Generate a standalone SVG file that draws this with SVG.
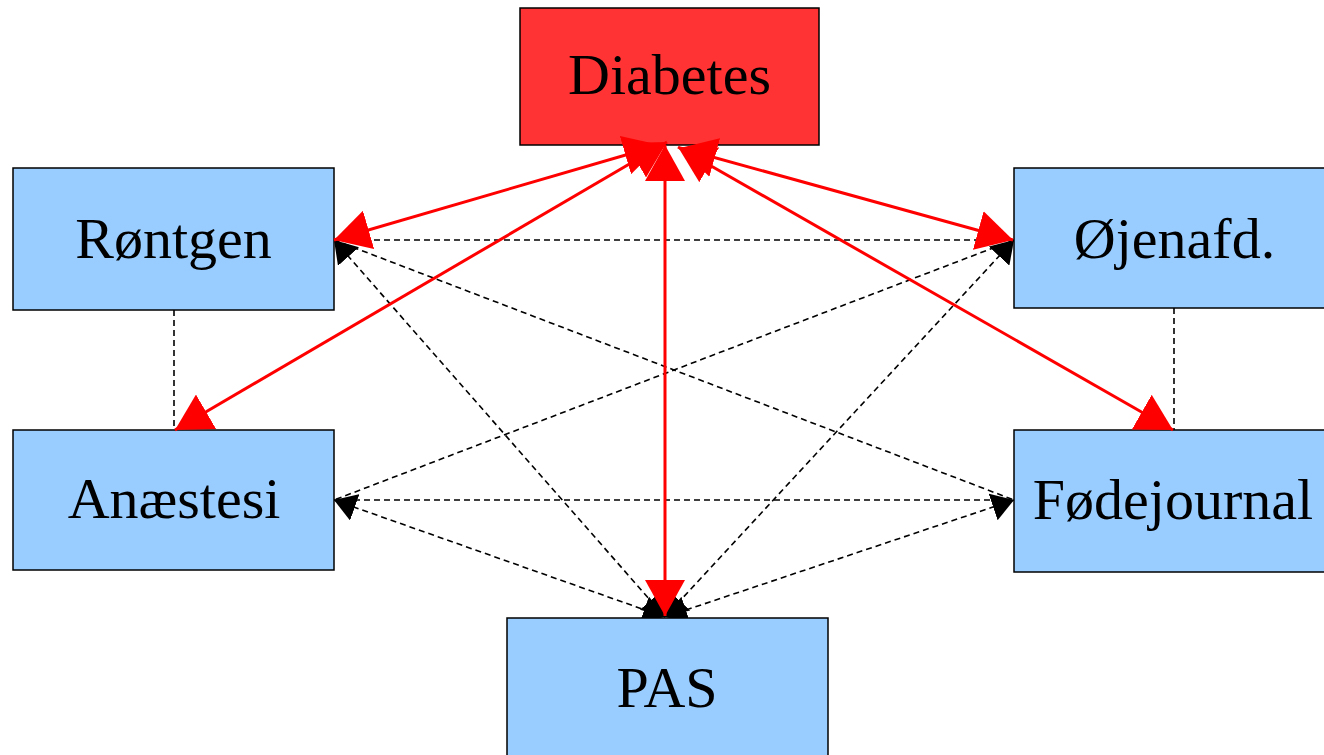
<svg xmlns="http://www.w3.org/2000/svg" width="1324" height="755" viewBox="0 0 1324 755">
<style>
.box{stroke:#000;stroke-width:1.5}
.blue{fill:#99ccff}
.red{fill:#ff3333}
.lbl{font-family:"Liberation Serif","Times New Roman",serif;font-size:58px;fill:#000;text-anchor:middle}
.dash{stroke:#000;stroke-width:1.6;stroke-dasharray:6,4;fill:none}
.rline{stroke:#ff0000;stroke-width:3;fill:none}
</style>
<defs>
<marker id="bk" markerUnits="userSpaceOnUse" viewBox="0 0 22 28" markerWidth="22" markerHeight="28" refX="22" refY="14" orient="auto-start-reverse"><path d="M0,0 L22,14 L0,28 z" fill="#000"/></marker>
<marker id="rd" markerUnits="userSpaceOnUse" viewBox="0 0 36 40" markerWidth="36" markerHeight="40" refX="36" refY="20" orient="auto-start-reverse"><path d="M0,0 L36,20 L0,40 z" fill="#ff0000"/></marker>
</defs>
<g id="connectors-dashed">
<line class="dash" x1="334" y1="240" x2="1014" y2="240"/>
<line class="dash" x1="334" y1="240" x2="1014" y2="500"/>
<line class="dash" x1="1014" y1="240" x2="334" y2="500"/>
<line class="dash" x1="334" y1="500" x2="1014" y2="500"/>
<line class="dash" x1="174" y1="310" x2="174" y2="430"/>
<line class="dash" x1="1174" y1="308" x2="1174" y2="430"/>
<line class="dash" x1="334" y1="240" x2="665" y2="617" marker-start="url(#bk)" marker-end="url(#bk)"/>
<line class="dash" x1="1014" y1="240" x2="665" y2="617" marker-start="url(#bk)" marker-end="url(#bk)"/>
<line class="dash" x1="334" y1="500" x2="665" y2="617" marker-start="url(#bk)" marker-end="url(#bk)"/>
<line class="dash" x1="1014" y1="500" x2="665" y2="617" marker-start="url(#bk)" marker-end="url(#bk)"/>
</g>
<g id="node-diabetes"><rect class="box red" x="520" y="8" width="299" height="137"/><text class="lbl" x="669.5" y="94">Diabetes</text></g>
<g id="node-rontgen"><rect class="box blue" x="13" y="168" width="321" height="142"/><text class="lbl" x="173.5" y="258">Røntgen</text></g>
<g id="node-ojenafd"><rect class="box blue" x="1014" y="168" width="330" height="140"/><text class="lbl" x="1174.5" y="258">Øjenafd.</text></g>
<g id="node-anaestesi"><rect class="box blue" x="13" y="430" width="321" height="140"/><text class="lbl" x="174" y="518">Anæstesi</text></g>
<g id="node-fodejournal"><rect class="box blue" x="1014" y="430" width="330" height="142"/><text class="lbl" x="1173" y="519">Fødejournal</text></g>
<g id="node-pas"><rect class="box blue" x="507" y="618" width="321" height="150"/><text class="lbl" x="667" y="707">PAS</text></g>
<g id="connectors-red">
<line class="rline" x1="660" y1="145" x2="334" y2="240" marker-start="url(#rd)" marker-end="url(#rd)"/>
<line class="rline" x1="667" y1="142" x2="175" y2="430" marker-start="url(#rd)" marker-end="url(#rd)"/>
<line class="rline" x1="665" y1="145" x2="665" y2="616" marker-start="url(#rd)" marker-end="url(#rd)"/>
<line class="rline" x1="680" y1="148" x2="1013" y2="240" marker-start="url(#rd)" marker-end="url(#rd)"/>
<line class="rline" x1="678" y1="147" x2="1173" y2="430" marker-start="url(#rd)" marker-end="url(#rd)"/>
</g>
</svg>
